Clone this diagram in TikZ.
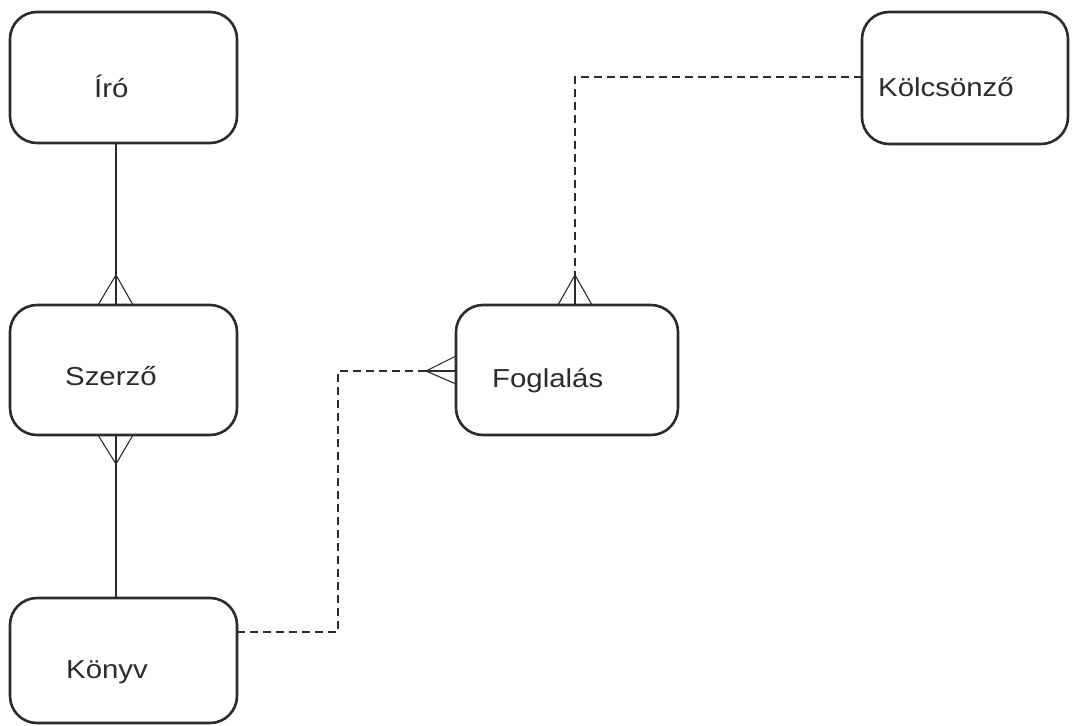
\documentclass[tikz,border=0pt]{standalone}
\usepackage{fontspec}
\setmainfont{Liberation Sans}[FakeStretch=1.13]
\usetikzlibrary{calc}
\definecolor{ink}{HTML}{2B2B2B}
\begin{document}
\begin{tikzpicture}[x=1pt,y=-1pt,
  entity/.style={draw=ink, line width=2.6pt, rounded corners=27pt, inner sep=0pt, outer sep=0pt},
  caption/.style={anchor=base west, inner sep=0pt, text=ink, font=\fontsize{26}{30}\selectfont},
  rel/.style={draw=ink, line width=1.1pt},
  opt/.style={rel, dash pattern=on 8pt off 5pt}]
\useasboundingbox[fill=white] (0,0) rectangle (1072,726);

% entities
\node[entity, minimum width=227pt, minimum height=131pt] (iro)    at (123.5,77.5) {};
\node[entity, minimum width=206pt, minimum height=132pt] (kolcs)  at (965,78)     {};
\node[entity, minimum width=227pt, minimum height=130pt] (szerzo) at (123.5,370)  {};
\node[entity, minimum width=222pt, minimum height=130pt] (fogl)   at (567,370)    {};
\node[entity, minimum width=227pt, minimum height=125pt] (konyv)  at (123.5,660.5){};

% entity names
\node[caption] (iroT)    at (94,97)   {Író};
\node[caption] (kolcsT)  at (878,96)  {Kölcsönző};
\node[caption] (szerzoT) at (65,385)  {Szerző};
\node[caption] (foglT)   at (492,387) {Foglalás};
\node[caption] (konyvT)  at (66,678)  {Könyv};

% Író -- Szerző (many on Szerző side)
\draw[rel] ($(iro.south)+(-7.5,0)$) -- ($(szerzo.north)+(-7.5,0)$);
\draw[rel] ($(szerzo.north)+(-25.5,0)$) -- ($(szerzo.north)+(-7.5,-30)$) -- ($(szerzo.north)+(9.5,0)$);

% Szerző -- Könyv (many on Szerző side)
\draw[rel] ($(szerzo.south)+(-7.5,0)$) -- ($(konyv.north)+(-7.5,0)$);
\draw[rel] ($(szerzo.south)+(-25.5,0)$) -- ($(szerzo.south)+(-7.5,29)$) -- ($(szerzo.south)+(9.5,0)$);

% Könyv -- Foglalás (optional, many on Foglalás side)
\coordinate (fApexL) at ($(fogl.west)+(-30,1)$);
\draw[opt] ($(konyv.east)+(0,-28.5)$) -- ++(101,0) |- (fApexL);
\draw[rel] (fApexL) -- ($(fogl.west)+(0,1)$);
\draw[rel] ($(fogl.west)+(0,-14)$) -- (fApexL) -- ($(fogl.west)+(0,14)$);

% Kölcsönző -- Foglalás (optional, many on Foglalás side)
\coordinate (fApexT) at ($(fogl.north)+(8,-30)$);
\draw[opt] ($(kolcs.west)+(0,-1)$) -| (fApexT);
\draw[rel] (fApexT) -- ($(fogl.north)+(8,0)$);
\draw[rel] ($(fogl.north)+(-9,0)$) -- (fApexT) -- ($(fogl.north)+(25,0)$);
\end{tikzpicture}
\end{document}
